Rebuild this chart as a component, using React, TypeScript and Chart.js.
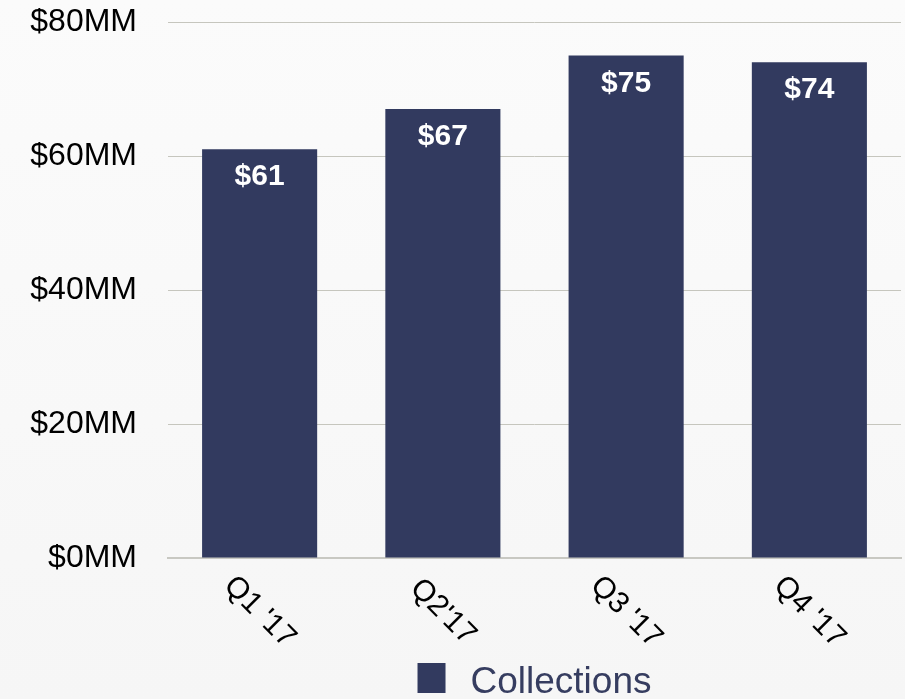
import React, { useEffect, useRef } from "react";
import { Chart, registerables } from "chart.js";

Chart.register(...registerables);

const categories = ["Q1 '17", "Q2'17", "Q3 '17", "Q4 '17"];
const collections = [61, 67, 75, 74];
const yTicks = [0, 20, 40, 60, 80];
const seriesName = "Collections";

const BAR_COLOR = "#323a5f";
const FONT = "'Liberation Sans', Arial, Helvetica, sans-serif";

export default function App() {
  const ref = useRef<HTMLCanvasElement | null>(null);

  useEffect(() => {
    document.body.style.margin = "0";
    const canvas = ref.current;
    if (!canvas) return;

    const bgPlugin = {
      id: "bg",
      beforeDraw(chart: any) {
        const { ctx, width, height } = chart;
        ctx.save();
        const g = ctx.createLinearGradient(0, 0, 0, height);
        g.addColorStop(0, "#fbfbfb");
        g.addColorStop(1, "#f6f6f6");
        ctx.fillStyle = g;
        ctx.fillRect(0, 0, width, height);
        ctx.restore();
      },
    };

    const labelPlugin = {
      id: "labels",
      afterDatasetsDraw(chart: any) {
        const { ctx } = chart;
        const meta = chart.getDatasetMeta(0);
        ctx.save();
        ctx.fillStyle = "#ffffff";
        ctx.font = `bold 30px ${FONT}`;
        ctx.textAlign = "center";
        ctx.textBaseline = "alphabetic";
        meta.data.forEach((bar: any, i: number) => {
          ctx.fillText("$" + collections[i], bar.x, bar.y + 36);
        });
        ctx.fillStyle = "#000000";
        ctx.font = `30px ${FONT}`;
        ctx.textBaseline = "middle";
        const xScale = chart.scales.x;
        categories.forEach((c, i) => {
          const x = xScale.getPixelForValue(i);
          ctx.save();
          ctx.translate(x, chart.chartArea.bottom + 54);
          ctx.rotate(Math.PI / 4);
          ctx.fillText(c, 0, 0);
          ctx.restore();
        });
        const area = chart.chartArea;
        ctx.font = `37px ${FONT}`;
        const tw = ctx.measureText(seriesName).width;
        const boxW = 28;
        const gap = 25;
        const total = boxW + gap + tw;
        const cx = (area.left + area.right) / 2;
        const left = cx - total / 2;
        ctx.fillStyle = BAR_COLOR;
        ctx.fillRect(left, 663, boxW, 30);
        ctx.fillStyle = "#363d60";
        ctx.textAlign = "left";
        ctx.textBaseline = "alphabetic";
        ctx.fillText(seriesName, left + boxW + gap, 693);
        ctx.restore();
      },
    };

    const chart = new Chart(canvas, {
      type: "bar",
      data: {
        labels: categories,
        datasets: [
          {
            label: seriesName,
            data: collections,
            backgroundColor: BAR_COLOR,
            borderWidth: 0,
            categoryPercentage: 1,
            barPercentage: 0.628,
          },
        ],
      },
      options: {
        responsive: false,
        animation: false,
        layout: { padding: { top: 22, right: 4, left: 0, bottom: 0 } },
        plugins: { legend: { display: false }, tooltip: { enabled: false } },
        scales: {
          x: {
            grid: { display: false },
            border: { display: true, color: "#c8c8c2", width: 2 },
            ticks: { display: false },
            afterFit(scale: any) {
              scale.height = 141;
              scale.paddingLeft = 0;
              scale.paddingRight = 0;
            },
          },
          y: {
            min: 0,
            max: 80,
            afterBuildTicks(scale: any) {
              scale.ticks = yTicks.map((v) => ({ value: v }));
            },
            grid: { color: "#c6c6be", lineWidth: 1, drawTicks: false },
            border: { display: false },
            ticks: {
              color: "#000000",
              padding: 31,
              font: { family: FONT, size: 32 },
              callback: (v: any) => "$" + v + "MM",
            },
            afterFit(scale: any) {
              scale.width = 168;
              scale.paddingTop = 0;
              scale.paddingBottom = 0;
            },
          },
        },
      },
      plugins: [bgPlugin, labelPlugin],
    });

    return () => chart.destroy();
  }, []);

  return (
    <div style={{ width: 905, height: 699 }}>
      <canvas ref={ref} width={905} height={699} />
    </div>
  );
}
